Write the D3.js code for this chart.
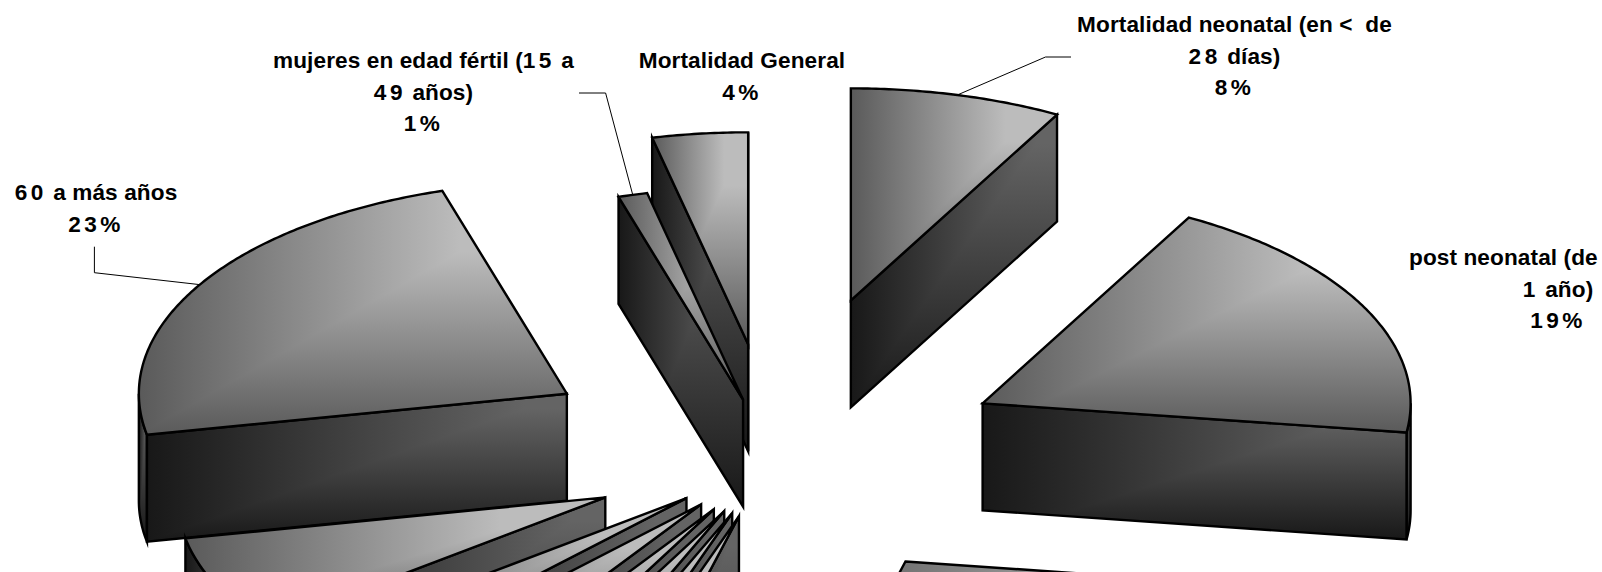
<!DOCTYPE html>
<html>
<head>
<meta charset="utf-8">
<script src="https://cdnjs.cloudflare.com/ajax/libs/d3/7.8.5/d3.min.js"></script>
<style>
  html, body { margin: 0; padding: 0; background: #fff; overflow: hidden; }
  svg { display: block; }
  text { font-family: "Liberation Sans", Arial, sans-serif; font-weight: 700; font-size: 22.6px; fill: #000; white-space: pre; }
</style>
</head>
<body>
<svg id="chart" width="1602" height="572"></svg>
<script>
// Share of deaths per group, clockwise from twelve o'clock.
const shares = [8.0, 19.2, 26.9, 1.2, 1.1, 1.4, 1.6, 2.8, 2.4, 7.3, 23.4, 1.1, 3.6];

// How far each wedge is pulled away from the pie centre.
const explosion = [313, 234.5, 239, 117, 113.5, 113, 115, 114.5, 116, 184, 240.4, 116, 220];

// Text above each percentage; wedges low on the page have their labels off the sheet.
const labelLines = [
  ["Mortalidad neonatal (en <  de", "28 días)"],
  ["post neonatal (de", "1 año)"],
  null, null, null, null, null, null, null, null,
  ["60 a más años"],
  ["mujeres en edad fértil (15 a", "49 años)"],
  ["Mortalidad General"]
];

// Label block placement: centre x, first baseline.
const labelX = [1234.5, 1558, 0, 0, 0, 0, 0, 0, 0, 0, 96, 423.5, 742];
const labelY = [32, 265, 0, 0, 0, 0, 0, 0, 0, 0, 200, 68, 68];

// Leader-line elbows; each line then runs to the middle of its wedge's rim.
const leaderPts = [
  [[1071, 57], [1045.5, 57]],
  null, null, null, null, null, null, null, null, null,
  [[94.4, 246.7], [94.4, 272.7]],
  [[579, 93], [605.6, 93]],
  null
];

const cx = 773, cy = 458, rx = 428, ry = 212, depth = 107, tilt = 0.52;

const svg = d3.select("#chart");
const defs = svg.append("defs");

function ramp(id, horizontal, light, dark, plateau) {
  const g = defs.append("linearGradient").attr("id", id)
    .attr("x1", horizontal ? 1 : 0).attr("y1", 0)
    .attr("x2", 0).attr("y2", horizontal ? 0 : 1);
  g.append("stop").attr("offset", 0).attr("stop-color", light);
  g.append("stop").attr("offset", plateau).attr("stop-color", light);
  g.append("stop").attr("offset", 1).attr("stop-color", dark);
}
ramp("topH", true, "#bcbcbc", "#5a5a5a", 0.25);
ramp("topV", false, "#bcbcbc", "#5a5a5a", 0.25);
ramp("wallH", true, "#646464", "#181818", 0.1);
ramp("wallV", false, "#646464", "#181818", 0.1);

const pie = d3.pie().sort(null).value(d => d).startAngle(0).endAngle(2 * Math.PI);
const line = d3.line();

const wedges = pie(shares).map((a, i) => {
  const mid = (a.startAngle + a.endAngle) / 2;
  return {
    i,
    a0: a.startAngle,
    a1: a.endAngle,
    mid,
    x: cx + explosion[i] * Math.sin(mid),
    y: cy - explosion[i] * tilt * Math.cos(mid)
  };
});

function rim(w, t, dy = 0) {
  return [w.x + rx * Math.sin(t), w.y - ry * Math.cos(t) + dy];
}
function arcPoints(w, t0, t1, dy = 0) {
  const n = Math.max(2, Math.ceil((t1 - t0) / 0.01));
  return d3.range(n + 1).map(k => rim(w, t0 + (t1 - t0) * k / n, dy));
}

// Each face blends a horizontal and a vertical ramp, keeping the darker of the
// two, which gives the square "from corner" shading with its diagonal seam.
function face(parent, points, prefix) {
  const d = line(points) + "Z";
  const g = parent.append("g").style("isolation", "isolate");
  g.append("path").attr("d", d).attr("fill", `url(#${prefix}H)`);
  g.append("path").attr("d", d).attr("fill", `url(#${prefix}V)`).style("mix-blend-mode", "darken");
  parent.append("path").attr("d", d).attr("fill", "none").attr("stroke", "#000")
    .attr("stroke-width", 2.4).attr("stroke-linejoin", "miter").attr("stroke-miterlimit", 6);
}

// Wedges with the apex higher on the page sit further back, so they paint first.
wedges.slice().sort((p, q) => d3.ascending(p.y, q.y)).forEach(w => {
  const g = svg.append("g");
  const apex = [w.x, w.y];
  const apexLow = [w.x, w.y + depth];
  // Outer rim wall, only where the rim faces the viewer.
  const lo = Math.max(w.a0, Math.PI / 2), hi = Math.min(w.a1, 1.5 * Math.PI);
  if (hi > lo) {
    face(g, arcPoints(w, lo, hi).concat(arcPoints(w, lo, hi, depth).reverse()), "wall");
  }
  // Cut walls.
  if (Math.sin(w.a0) < 0) {
    face(g, [apex, rim(w, w.a0), rim(w, w.a0, depth), apexLow], "wall");
  }
  if (Math.sin(w.a1) > 0) {
    face(g, [apex, rim(w, w.a1), rim(w, w.a1, depth), apexLow], "wall");
  }
  // Top face.
  face(g, [apex].concat(arcPoints(w, w.a0, w.a1)), "top");
});

// Leaders.
wedges.forEach(w => {
  const pts = leaderPts[w.i];
  if (!pts) return;
  svg.append("path").attr("d", line(pts.concat([rim(w, w.mid)])))
    .attr("fill", "none").attr("stroke", "#000").attr("stroke-width", 1);
});

// Labels, with the percentage rounded from the same share that sizes the wedge.
// Digit runs are tracked a little wider than the letters.
const lineGap = 31.7;
function putText(x, y, anchor, str) {
  const t = svg.append("text").attr("x", x).attr("y", y).attr("text-anchor", anchor);
  str.split(/(\d+%?)/).filter(s => s).forEach(run => {
    t.append("tspan").style("letter-spacing", /\d/.test(run) ? "3.5px" : "0.1px").text(run);
  });
}
const labelled = [0, 1, 10, 11, 12];
const blocks = labelLines.filter(d => d);
labelled.forEach((i, n) => {
  blocks[n].concat([d3.format(".0f")(shares[i]) + "%"]).forEach((str, k) => {
    // The long first line of the block beside the sheet edge is set flush from its left end.
    if (i === 1 && k === 0) putText(1409, labelY[i], "start", str);
    else putText(labelX[i], labelY[i] + k * lineGap, "middle", str);
  });
});
</script>
</body>
</html>
